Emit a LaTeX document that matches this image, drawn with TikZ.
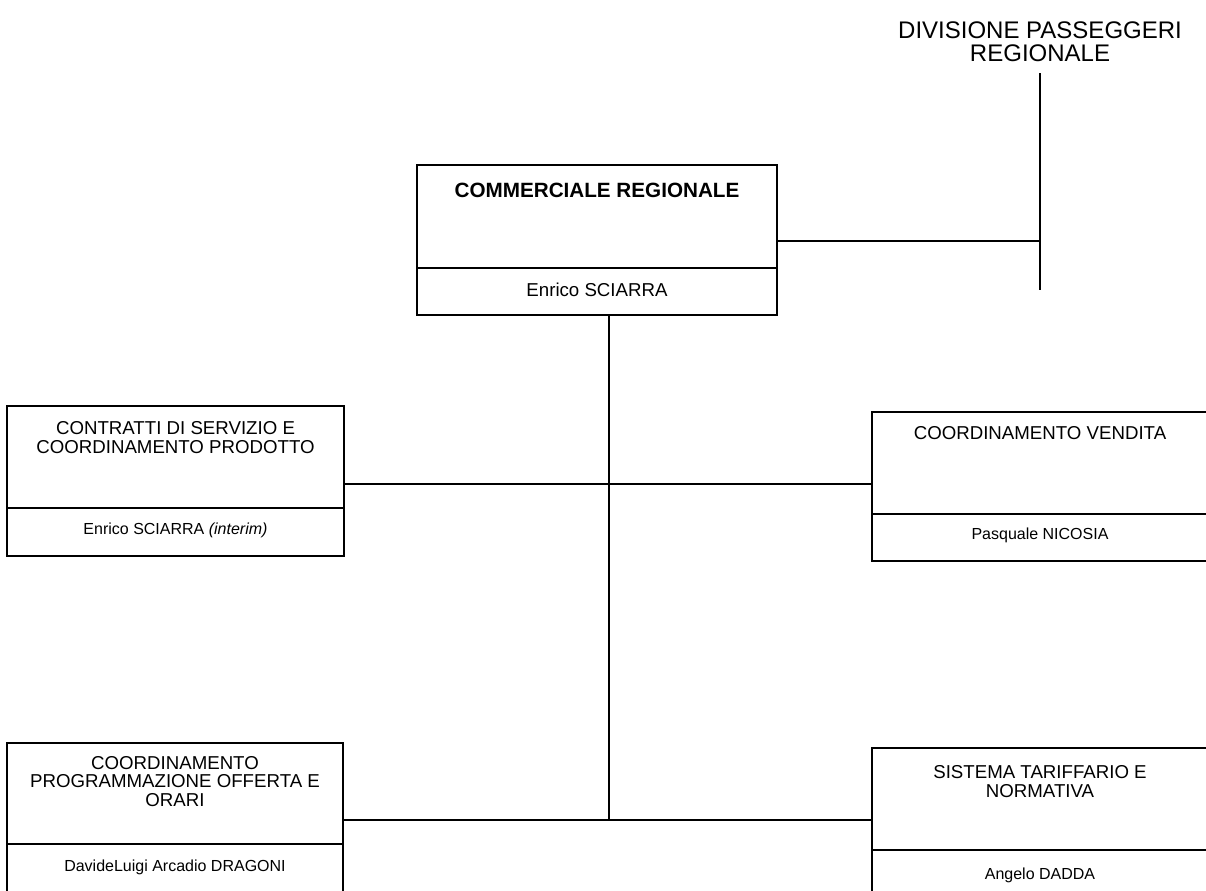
\documentclass[tikz,border=0pt]{standalone}
\usepackage{fontspec}
\setmainfont{Liberation Sans}
\usetikzlibrary{positioning}

\begin{document}
\begin{tikzpicture}[x=0.75pt, y=-0.75pt,
  part/.style={draw, line width=1.4pt, inner sep=0pt, outer sep=0pt},
  head/.style={font=\fontsize{14}{14}\selectfont, align=center, inner sep=0pt},
  who/.style={font=\fontsize{12}{14}\selectfont, inner sep=0pt},
  link/.style={line width=1.4pt}]

  \useasboundingbox (0,0) rectangle (1206,890);
  \clip (0,0) rectangle (1206,890);

  % Top level
  \node[font=\fontsize{18}{17.3}\selectfont, align=center, inner sep=0pt] (divisione) at (1040,41.5) {DIVISIONE PASSEGGERI\\REGIONALE};
  \coordinate (dtop) at (1040,73);
  \coordinate (dmid) at (1040,241);
  \coordinate (dbot) at (1040,290);

  % Commerciale regionale
  \node[part, anchor=north west, minimum width=360*0.75pt, minimum height=103*0.75pt] (comm) at (417,165) {};
  \node[part, below=0pt of comm, minimum width=360*0.75pt, minimum height=47*0.75pt] (commN) {};
  \node[head, font=\fontsize{15.5}{16}\selectfont\bfseries] (commT) at (597,190) {COMMERCIALE REGIONALE};
  \node[who, font=\fontsize{14}{16}\selectfont] (commW) at (597,290) {Enrico SCIARRA};

  % First row
  \node[part, anchor=north west, minimum width=337*0.75pt, minimum height=102*0.75pt] (contr) at (7,406) {};
  \node[part, below=0pt of contr, minimum width=337*0.75pt, minimum height=48*0.75pt] (contrN) {};
  \node[head] (contrT) at (175.5,437.5) {CONTRATTI DI SERVIZIO E\\COORDINAMENTO PRODOTTO};
  \node[who] (contrW) at (175.5,530) {Enrico SCIARRA \textit{(interim)}};

  \node[part, anchor=north west, minimum width=336*0.75pt, minimum height=102*0.75pt] (vend) at (872,412) {};
  \node[part, below=0pt of vend, minimum width=336*0.75pt, minimum height=47*0.75pt] (vendN) {};
  \node[head] (vendT) at (1040,433) {COORDINAMENTO VENDITA};
  \node[who] (vendW) at (1040,535) {Pasquale NICOSIA};

  % Second row
  \node[part, anchor=north west, minimum width=336*0.75pt, minimum height=101*0.75pt] (prog) at (7,743) {};
  \node[part, below=0pt of prog, minimum width=336*0.75pt, minimum height=52*0.75pt] (progN) {};
  \node[head] (progT) at (175,781.5) {COORDINAMENTO\\PROGRAMMAZIONE OFFERTA E\\ORARI};
  \node[who] (progW) at (175,867) {DavideLuigi Arcadio DRAGONI};

  \node[part, anchor=north west, minimum width=336*0.75pt, minimum height=102*0.75pt] (tarif) at (872,748) {};
  \node[part, below=0pt of tarif, minimum width=336*0.75pt, minimum height=48*0.75pt] (tarifN) {};
  \node[head] (tarifT) at (1040,781.5) {SISTEMA TARIFFARIO E\\NORMATIVA};
  \node[who] (tarifW) at (1040,875) {Angelo DADDA};

  % Connectors
  \coordinate (hub1) at (609,484);
  \coordinate (hub2) at (609,820);
  \draw[link] (dtop) -- (dbot);
  \draw[link] (comm.east |- dmid) -- (dmid);
  \draw[link] (commN.south -| hub1) -- (hub2);
  \draw[link] (contr.east |- hub1) -- (vend.west |- hub1);
  \draw[link] (prog.east |- hub2) -- (tarif.west |- hub2);

\end{tikzpicture}
\end{document}
